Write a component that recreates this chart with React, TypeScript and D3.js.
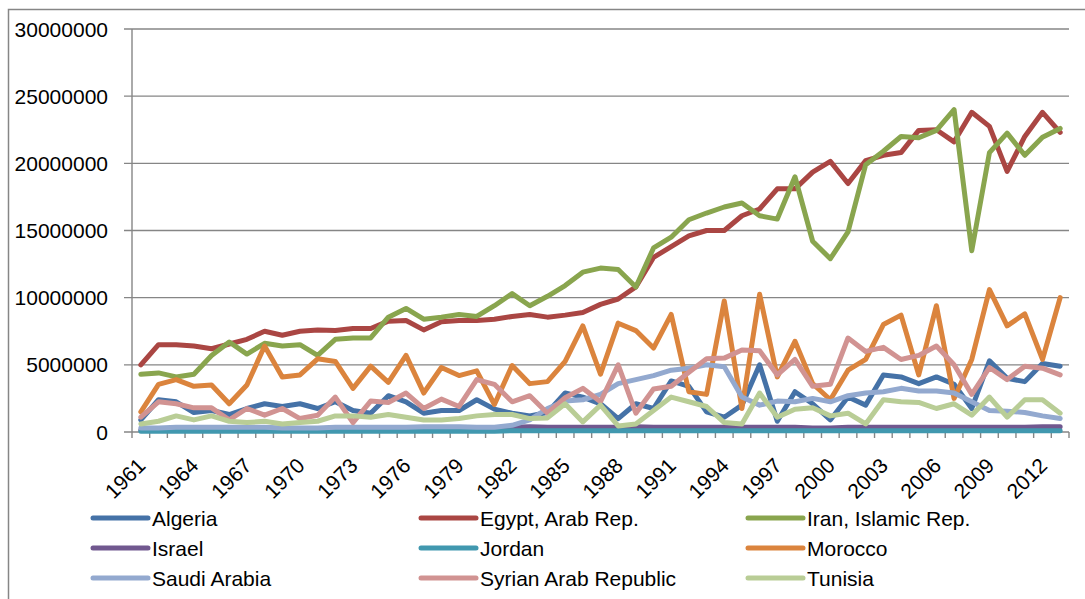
import React from "react";
import * as d3 from "d3";

const width = 1085;
const height = 599;
const plot = { left: 132, right: 1069, top: 29, bottom: 432 };
const fontFamily = "'Liberation Sans', Arial, sans-serif";

// years on the category axis
const years = d3.range(1961, 2014).map(String);
const yTicks = [0, 5000000, 10000000, 15000000, 20000000, 25000000, 30000000];

// values, in millions
const algeria = [0.9, 2.4, 2.25, 1.45, 1.6, 1.3, 1.75, 2.1, 1.9, 2.1, 1.75, 2.25, 1.6, 1.4, 2.7, 2.25, 1.4, 1.6, 1.6, 2.4, 1.7, 1.4, 1.2, 1.45, 2.9, 2.6, 2.1, 1.0, 2.1, 1.75, 3.8, 3.4, 1.5, 1.1, 2.0, 5.0, 0.8, 3.0, 2.1, 0.9, 2.6, 2.0, 4.25, 4.1, 3.6, 4.1, 3.55, 1.75, 5.3, 4.0, 3.75, 5.1, 4.9];
const egypt = [5.0, 6.5, 6.5, 6.4, 6.2, 6.55, 6.9, 7.5, 7.2, 7.5, 7.6, 7.55, 7.7, 7.7, 8.25, 8.3, 7.6, 8.2, 8.3, 8.3, 8.4, 8.6, 8.75, 8.55, 8.7, 8.9, 9.5, 9.9, 10.8, 13.0, 13.8, 14.6, 15.0, 15.0, 16.1, 16.6, 18.1, 18.1, 19.35, 20.15, 18.5, 20.2, 20.6, 20.8, 22.45, 22.5, 21.6, 23.8, 22.75, 19.4, 22.0, 23.8, 22.3];
const iran = [4.3, 4.4, 4.1, 4.3, 5.7, 6.7, 5.8, 6.6, 6.4, 6.5, 5.7, 6.9, 7.0, 7.0, 8.55, 9.2, 8.4, 8.55, 8.75, 8.6, 9.4, 10.3, 9.4, 10.1, 10.9, 11.9, 12.2, 12.1, 10.8, 13.7, 14.5, 15.8, 16.3, 16.75, 17.05, 16.1, 15.85, 19.0, 14.2, 12.9, 14.9, 19.9, 20.9, 22.0, 21.9, 22.45, 24.0, 13.5, 20.8, 22.25, 20.6, 21.95, 22.6];
const israel = [0.15, 0.15, 0.15, 0.2, 0.2, 0.2, 0.2, 0.2, 0.2, 0.25, 0.25, 0.3, 0.3, 0.3, 0.25, 0.25, 0.25, 0.25, 0.25, 0.3, 0.3, 0.35, 0.4, 0.35, 0.35, 0.35, 0.35, 0.35, 0.4, 0.35, 0.35, 0.35, 0.35, 0.35, 0.35, 0.35, 0.35, 0.35, 0.3, 0.3, 0.35, 0.35, 0.35, 0.35, 0.35, 0.35, 0.35, 0.35, 0.35, 0.35, 0.35, 0.4, 0.4];
const jordan = [0.05, 0.05, 0.05, 0.05, 0.05, 0.05, 0.05, 0.05, 0.05, 0.05, 0.05, 0.05, 0.05, 0.05, 0.05, 0.05, 0.05, 0.05, 0.05, 0.05, 0.05, 0.1, 0.1, 0.1, 0.1, 0.1, 0.1, 0.1, 0.1, 0.1, 0.1, 0.1, 0.1, 0.1, 0.1, 0.1, 0.1, 0.1, 0.1, 0.1, 0.1, 0.1, 0.1, 0.1, 0.1, 0.1, 0.1, 0.1, 0.1, 0.1, 0.1, 0.1, 0.1];
const morocco = [1.5, 3.55, 3.9, 3.4, 3.5, 2.1, 3.5, 6.4, 4.1, 4.25, 5.45, 5.25, 3.25, 4.9, 3.7, 5.7, 2.9, 4.8, 4.2, 4.55, 2.05, 4.95, 3.6, 3.75, 5.25, 7.9, 4.3, 8.1, 7.55, 6.25, 8.75, 3.0, 2.8, 9.75, 1.75, 10.25, 4.1, 6.75, 3.6, 2.4, 4.6, 5.4, 8.0, 8.7, 4.25, 9.4, 2.5, 5.4, 10.6, 7.9, 8.8, 5.4, 10.0];
const saudi = [0.3, 0.3, 0.35, 0.35, 0.35, 0.35, 0.35, 0.35, 0.3, 0.3, 0.3, 0.35, 0.35, 0.35, 0.35, 0.35, 0.4, 0.4, 0.4, 0.35, 0.35, 0.5, 0.9, 1.75, 2.3, 2.4, 2.8, 3.6, 3.9, 4.2, 4.6, 4.75, 5.0, 4.85, 2.6, 2.0, 2.3, 2.25, 2.5, 2.25, 2.7, 2.9, 3.0, 3.25, 3.05, 3.05, 2.9, 2.25, 1.6, 1.55, 1.45, 1.2, 1.0];
const syria = [1.1, 2.25, 2.1, 1.8, 1.8, 0.9, 1.75, 1.25, 1.75, 1.0, 1.25, 2.6, 0.7, 2.3, 2.2, 2.9, 1.75, 2.45, 1.9, 3.9, 3.55, 2.25, 2.7, 1.4, 2.55, 3.25, 2.25, 5.0, 1.4, 3.2, 3.4, 4.45, 5.45, 5.5, 6.1, 6.05, 4.25, 5.4, 3.4, 3.55, 7.0, 6.0, 6.3, 5.4, 5.7, 6.4, 5.0, 2.8, 4.8, 3.9, 4.9, 4.75, 4.25];
const tunisia = [0.6, 0.8, 1.2, 0.9, 1.2, 0.8, 0.7, 0.8, 0.6, 0.7, 0.8, 1.2, 1.2, 1.1, 1.3, 1.1, 0.9, 0.9, 1.0, 1.2, 1.3, 1.3, 1.0, 1.05, 2.1, 0.75, 2.0, 0.45, 0.6, 1.6, 2.6, 2.25, 1.9, 0.7, 0.6, 2.9, 1.1, 1.7, 1.8, 1.2, 1.4, 0.6, 2.4, 2.25, 2.2, 1.75, 2.1, 1.25, 2.6, 1.1, 2.4, 2.4, 1.4];

const seriesNames = [
  "Algeria", "Egypt, Arab Rep.", "Iran, Islamic Rep.",
  "Israel", "Jordan", "Morocco",
  "Saudi Arabia", "Syrian Arab Republic", "Tunisia",
];
const seriesValues = [algeria, egypt, iran, israel, jordan, morocco, saudi, syria, tunisia];
const seriesColors = [
  "#4572A7", "#AA4643", "#89A54E",
  "#71588F", "#4198AF", "#DB843D",
  "#93A9CF", "#D19392", "#B9CD96",
];

const x = d3.scalePoint<string>().domain(years).range([plot.left, plot.right]).padding(0.5);
const y = d3.scaleLinear().domain([0, 30000000]).range([plot.bottom, plot.top]);
const step = x.step();

const line = d3
  .line<number>()
  .x((_, i) => x(years[i]) as number)
  .y((v) => y(v * 1000000));

const legendCols = [93, 421, 748];
const legendRows = [518, 548, 578];

const App = () => {
  const grid = "#868686";
  return (
    <svg width={width} height={height} style={{ display: "block", position: "absolute", left: 0, top: 0 }}>
      <rect x={0} y={0} width={width} height={height} fill="#fff" />
      <rect x={8.5} y={9.5} width={1100} height={620} fill="none" stroke={grid} strokeWidth={1.5} />
      {/* gridlines and y ticks */}
      {yTicks.map((t) => (
        <g key={t}>
          <line x1={plot.left - 8} x2={plot.right} y1={y(t)} y2={y(t)} stroke={grid} strokeWidth={1.4} />
          <text x={108} y={y(t)} dy="0.36em" textAnchor="end" fontFamily={fontFamily} fontSize={21} fill="#000">
            {t}
          </text>
        </g>
      ))}
      <line x1={plot.left} x2={plot.left} y1={plot.top} y2={plot.bottom} stroke={grid} strokeWidth={1.4} />
      {/* category tick marks */}
      {d3.range(years.length + 1).map((k) => (
        <line
          key={k}
          x1={plot.left + k * step}
          x2={plot.left + k * step}
          y1={plot.bottom}
          y2={plot.bottom + 6}
          stroke={grid}
          strokeWidth={1.4}
        />
      ))}
      {years.map((yr, i) =>
        i % 3 === 0 ? (
          <text
            key={yr}
            transform={`translate(${(x(yr) as number) + 6}, 467) rotate(-45)`}
            textAnchor="end"
            fontFamily={fontFamily}
            fontSize={21}
            fill="#000"
          >
            {yr}
          </text>
        ) : null
      )}
      {/* series */}
      {seriesValues.map((vals, s) => (
        <path
          key={seriesNames[s]}
          d={line(vals) || ""}
          fill="none"
          stroke={seriesColors[s]}
          strokeWidth={5}
          strokeLinejoin="round"
          strokeLinecap="round"
        />
      ))}
      {/* legend */}
      {seriesNames.map((name, s) => {
        const lx = legendCols[s % 3];
        const ly = legendRows[Math.floor(s / 3)];
        return (
          <g key={name}>
            <line x1={lx} x2={lx + 55} y1={ly} y2={ly} stroke={seriesColors[s]} strokeWidth={5} strokeLinecap="round" />
            <text x={lx + 59} y={ly} dy="0.36em" fontFamily={fontFamily} fontSize={21} fill="#000">
              {name}
            </text>
          </g>
        );
      })}
    </svg>
  );
};

export default App;
